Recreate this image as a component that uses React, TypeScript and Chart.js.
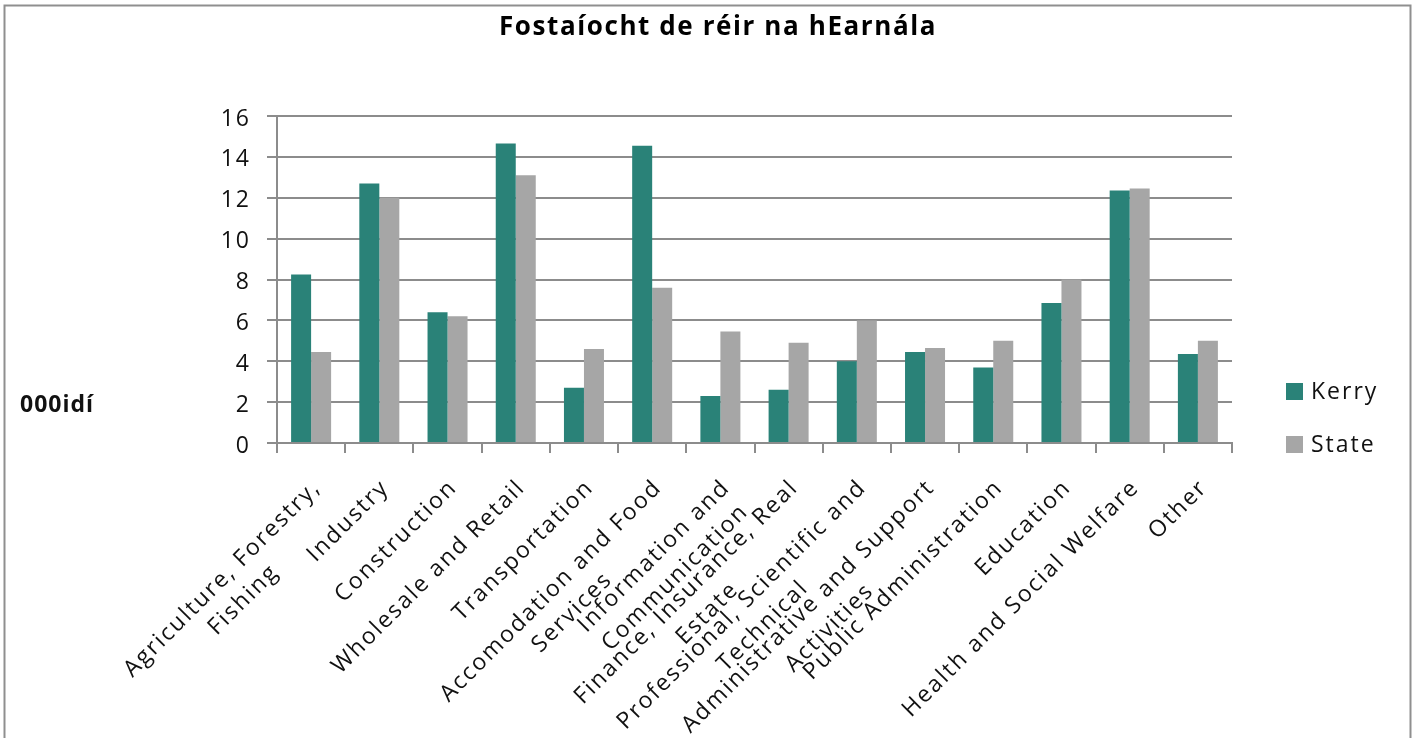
import React, { useEffect, useRef } from "react";
import { Chart, registerables } from "chart.js";

Chart.register(...registerables);

const TITLE = "Fostaíocht de réir na hEarnála";
const Y_LABEL = "000idí";
const CATEGORIES: string[][] = [
  ["Agriculture, Forestry,", "Fishing"],
  ["Industry"],
  ["Construction"],
  ["Wholesale and Retail"],
  ["Transportation"],
  ["Accomodation and Food", "Services"],
  ["Information and", "Communication"],
  ["Finance, Insurance, Real", "Estate"],
  ["Professional, Scientific and", "Technical"],
  ["Administrative and Support", "Activities"],
  ["Public Administration"],
  ["Education"],
  ["Health and Social Welfare"],
  ["Other"],
];
const SERIES_NAMES = ["Kerry", "State"];
const KERRY = [8.25, 12.7, 6.4, 14.65, 2.7, 14.55, 2.3, 2.6, 4.0, 4.45, 3.7, 6.85, 12.35, 4.35];
const STATE = [4.45, 12.0, 6.2, 13.1, 4.6, 7.6, 5.45, 4.9, 6.0, 4.65, 5.0, 8.0, 12.45, 5.0];
const Y_MIN = 0;
const Y_MAX = 16;
const Y_STEP = 2;

const COLORS = ["#2a8278", "#a6a6a6"];
const GRID = "#8c8c8c";
const TEXT = "#111111";
const FONT = '"Open Sans", "DejaVu Sans", sans-serif';
const SPACING = "2px";

const decor = {
  id: "decor",
  beforeUpdate(chart: any) {
    chart.ctx.letterSpacing = SPACING;
  },
  beforeDraw(chart: any) {
    const ctx = chart.ctx;
    ctx.letterSpacing = SPACING;
    ctx.save();
    ctx.fillStyle = "#ffffff";
    ctx.fillRect(0, 0, chart.width, chart.height);
    ctx.restore();
  },
  afterDraw(chart: any) {
    const ctx = chart.ctx;
    ctx.save();
    // frame
    ctx.strokeStyle = "#8f8f8f";
    ctx.lineWidth = 2;
    ctx.strokeRect(4.5, 5.5, 1406, 800);

    // title
    ctx.fillStyle = "#000000";
    ctx.font = `bold 26px ${FONT}`;
    ctx.letterSpacing = "1.6px";
    ctx.textAlign = "center";
    ctx.textBaseline = "middle";
    ctx.fillText(TITLE, 718, 28);

    // y-axis label
    ctx.font = `bold 23px ${FONT}`;
    ctx.letterSpacing = "1px";
    ctx.textAlign = "left";
    ctx.fillStyle = TEXT;
    ctx.fillText(Y_LABEL, 20, 405);

    // legend
    ctx.font = `500 23px ${FONT}`;
    ctx.letterSpacing = SPACING;
    chart.data.datasets.forEach((ds: any, i: number) => {
      const y = 383 + i * 53;
      ctx.fillStyle = ds.backgroundColor;
      ctx.fillRect(1286, y, 17, 17);
      ctx.fillStyle = TEXT;
      ctx.textAlign = "left";
      ctx.textBaseline = "middle";
      ctx.fillText(ds.label, 1311, y + 9.5);
    });

    // x category labels (rotated, lines centred)
    const xs = chart.scales.x;
    const base = chart.chartArea.bottom;
    ctx.font = `500 23px ${FONT}`;
    ctx.letterSpacing = SPACING;
    ctx.fillStyle = TEXT;
    CATEGORIES.forEach((lines, i) => {
      const xc = xs.getPixelForValue(i);
      const w = Math.max(...lines.map((l) => ctx.measureText(l).width));
      ctx.save();
      ctx.translate(xc + 6, base + 41);
      ctx.rotate(-Math.PI / 4);
      ctx.textAlign = "center";
      ctx.textBaseline = "middle";
      lines.forEach((l, j) => ctx.fillText(l, -w / 2, j * 30));
      ctx.restore();
    });
    ctx.restore();
  },
};

export default function App() {
  const ref = useRef<HTMLCanvasElement | null>(null);
  useEffect(() => {
    if (!ref.current) return;
    const chart = new Chart(ref.current, {
      type: "bar",
      data: {
        labels: CATEGORIES.map((l) => l.join(" ")),
        datasets: [
          { label: SERIES_NAMES[0], data: KERRY, backgroundColor: COLORS[0], borderWidth: 0 },
          { label: SERIES_NAMES[1], data: STATE, backgroundColor: COLORS[1], borderWidth: 0 },
        ],
      },
      options: {
        responsive: false,
        animation: false,
        events: [],
        layout: { padding: { top: 116, right: 184, left: 0, bottom: 0 } },
        datasets: { bar: { categoryPercentage: 0.5865, barPercentage: 1 } },
        plugins: {
          legend: { display: false },
          title: { display: false },
          tooltip: { enabled: false },
        },
        scales: {
          x: {
            offset: true,
            grid: {
              display: true,
              drawOnChartArea: false,
              drawTicks: true,
              tickLength: 10,
              color: GRID,
              lineWidth: 2,
            },
            border: { display: true, color: GRID, width: 2 },
            ticks: { display: false },
            afterFit: (s: any) => {
              s.height = 295;
            },
          },
          y: {
            min: Y_MIN,
            max: Y_MAX,
            ticks: {
              stepSize: Y_STEP,
              font: { family: FONT, size: 23, weight: "500" },
              color: TEXT,
              padding: 16,
              labelOffset: 3,
            },
            grid: { color: GRID, lineWidth: 2, tickLength: 10 },
            border: { display: true, color: GRID, width: 2 },
            afterFit: (s: any) => {
              s.width = 277;
            },
          },
        },
      },
      plugins: [decor],
    });
    return () => chart.destroy();
  }, []);
  return (
    <div style={{ position: "absolute", left: 0, top: 0, width: 1416, height: 738, background: "#fff" }}>
      <canvas ref={ref} width={1416} height={738} style={{ display: "block" }} />
    </div>
  );
}
